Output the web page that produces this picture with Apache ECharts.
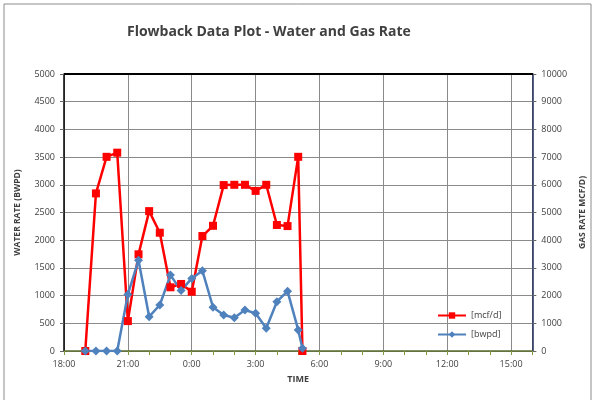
<html>
<head>
<meta charset="utf-8" />
<script src="https://cdn.jsdelivr.net/npm/echarts@6/dist/echarts.min.js"></script>
</head>
<body style="margin:0">
<div id="main" style="width:595px;height:400px;"></div>
<script>
// sample times (clock), starting on the first evening
var times = ['19:00','19:30','20:00','20:30','21:00','21:30','22:00','22:30','23:00','23:30',
             '0:00','0:30','1:00','1:30','2:00','2:30','3:00','3:30','4:00','4:30','5:00','5:12'];
var gasRate = [0, 5690, 7010, 7160, 1080, 3490, 5050, 4270, 2300, 2420,
               2140, 4150, 4520, 5990, 6000, 6000, 5780, 6000, 4550, 4510, 7010, 0];
var waterRate = [0, 0, 0, 0, 1020, 1640, 620, 830, 1370, 1090,
                 1310, 1450, 790, 650, 600, 740, 680, 410, 890, 1080, 380, 50];
var xTickLabels = ['18:00','21:00','0:00','3:00','6:00','9:00','12:00','15:00'];

// hours after 18:00
function toHours(t) {
    var p = t.split(':');
    var h = parseInt(p[0]) + parseInt(p[1]) / 60;
    return h >= 18 ? h - 18 : h + 6;
}

var gasData = times.map(function (t, i) { return [toHours(t), gasRate[i]]; });
var waterData = times.map(function (t, i) { return [toHours(t), waterRate[i]]; });

var txt = '#404040';
var plain = function (v) { return String(v); };
var myChart = echarts.init(document.getElementById('main'));
var option = {
    animation: false,
    backgroundColor: '#fff',
    title: {
        text: 'Flowback Data Plot - Water and Gas Rate',
        left: 122,
        top: 20,
        textStyle: { fontFamily: 'Open Sans', fontSize: 14, fontWeight: 'bold', color: txt }
    },
    graphic: [{
        type: 'rect',
        shape: { x: 4, y: 4, width: 587, height: 400 },
        style: { fill: 'none', stroke: '#8c8c8c', lineWidth: 1 },
        z: 0
    }, {
        type: 'line',
        shape: { x1: 64, y1: 74, x2: 533, y2: 74 },
        style: { stroke: '#000', lineWidth: 2 },
        z: 5
    }],
    legend: {
        orient: 'vertical',
        left: 432,
        top: 306,
        itemGap: 10,
        itemWidth: 28,
        itemHeight: 8,
        textStyle: { fontFamily: 'Open Sans', fontSize: 9, color: txt },
        data: ['[mcf/d]', '[bwpd]']
    },
    grid: { left: 64, right: 62, top: 74, bottom: 49 },
    xAxis: {
        type: 'value',
        min: 0, max: 22, interval: 3,
        name: 'TIME',
        nameLocation: 'middle',
        nameGap: 24,
        nameTextStyle: { fontFamily: 'Open Sans', fontSize: 9, fontWeight: 'bold', color: txt },
        axisLine: { show: true, lineStyle: { color: '#5a6b2a', width: 1.5 } },
        axisTick: { show: true, length: 4, lineStyle: { color: '#7f9a3a' } },
        minorTick: { show: true, splitNumber: 3, length: 4, lineStyle: { color: '#7f9a3a' } },
        splitLine: { show: true, lineStyle: { color: '#8a8a8a' } },
        axisLabel: {
            showMaxLabel: false,
            fontFamily: 'Open Sans', fontSize: 9, color: txt, margin: 9,
            formatter: function (v) { return xTickLabels[Math.round(v / 3)] || ''; }
        }
    },
    yAxis: [{
        type: 'value',
        min: 0, max: 5000, interval: 500,
        name: 'WATER RATE (BWPD)',
        nameLocation: 'middle',
        nameGap: 42,
        nameTextStyle: { fontFamily: 'Open Sans', fontSize: 8.5, fontWeight: 'bold', color: txt },
        axisLine: { show: true, lineStyle: { color: '#000', width: 1.5 } },
        axisTick: { show: true, length: 4, lineStyle: { color: '#666' } },
        splitLine: { show: true, lineStyle: { color: '#8a8a8a' } },
        axisLabel: { fontFamily: 'Open Sans', fontSize: 9, color: txt, margin: 9, formatter: plain }
    }, {
        type: 'value',
        min: 0, max: 10000, interval: 1000,
        name: 'GAS RATE MCF/D)',
        nameLocation: 'middle',
        nameGap: 44,
        nameRotate: 90,
        nameTextStyle: { fontFamily: 'Open Sans', fontSize: 8.5, fontWeight: 'bold', color: txt },
        axisLine: { show: true, lineStyle: { color: '#1f2d5a', width: 1.5 } },
        axisTick: { show: true, length: 4, lineStyle: { color: '#666' } },
        splitLine: { show: false },
        axisLabel: { fontFamily: 'Open Sans', fontSize: 9, color: txt, margin: 9, formatter: plain }
    }],
    series: [{
        name: '[mcf/d]',
        type: 'line',
        yAxisIndex: 1,
        data: gasData,
        symbol: 'rect',
        symbolSize: 8,
        color: '#ff0000',
        lineStyle: { width: 2.5, color: '#ff0000' },
        itemStyle: { color: '#ff0000' }
    }, {
        name: '[bwpd]',
        type: 'line',
        yAxisIndex: 0,
        data: waterData,
        symbol: 'diamond',
        symbolSize: 9,
        color: '#4f81bd',
        lineStyle: { width: 2.5, color: '#4f81bd' },
        itemStyle: { color: '#4f81bd' }
    }]
};
myChart.setOption(option);
</script>
</body>
</html>
